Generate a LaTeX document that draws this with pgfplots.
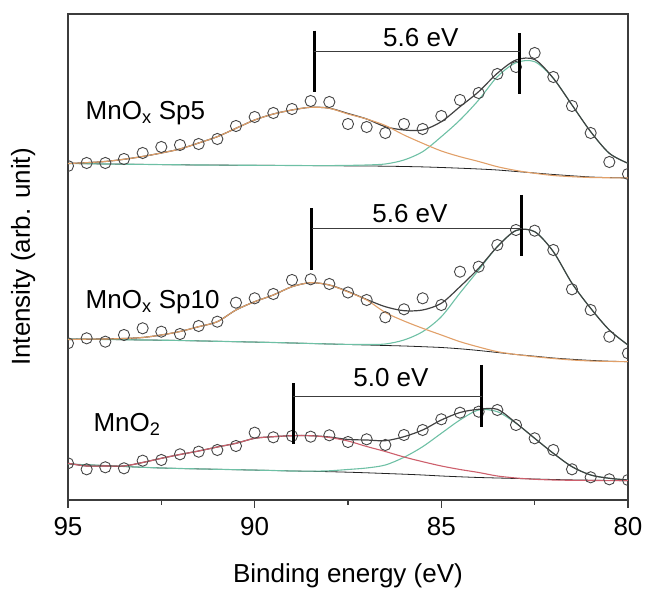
\documentclass[border=0pt]{standalone}
\usepackage{pgfplots}
\usepackage{pgfplotstable}
\pgfplotsset{compat=1.18}
\usepackage{fontspec}
\setmainfont{Liberation Sans}

\definecolor{axgray}{RGB}{60,60,60}
\definecolor{ptgray}{RGB}{70,70,70}
\definecolor{envgray}{RGB}{65,65,65}
\definecolor{bgline}{RGB}{35,35,35}
\definecolor{cmporange}{RGB}{225,160,105}
\definecolor{cmpgreen}{RGB}{110,192,165}
\definecolor{cmpred}{RGB}{205,95,108}

% E, measured counts, background, satellite, main peak, envelope
\pgfplotstableread{
E     I      bg     c1     c2     env
95    334    336.5  336.5  336.5  336.5
94.5  337    336.3  337.3  336.3  337.3
94    337    336.0  338.5  336.0  338.5
93.5  341    335.8  340.7  335.8  340.7
93    347    335.6  343.5  335.6  343.5
92.5  353    335.4  347    335.4  347
92    355    335.2  351    335.2  351
91.5  356    335.0  357    335.0  357
91    361    334.9  363.3  334.9  363.3
90.5  374    334.8  371.7  334.8  371.7
90    383    334.7  380    334.7  380
89.5  387    334.6  386    334.6  386
89    391    334.5  390    334.5  390
88.5  399    334.4  392.7  334.4  392.7
88    398    334.3  391.7  334.4  391.8
87.5  376    334.1  386    334.6  386.5
87    373    334.0  381    335    381
86.5  367    333.8  374.5  336    373.3
86    376    333.5  365    340    370
85.5  371    333.1  356.7  348.3  370
85    384    332.5  349    363.3  378.3
84.5  400    331.8  343.3  380    393.3
84    407    331.0  338.5  400    408.3
83.5  426    330.0  333.3  423.3  426.7
83    433    328.5  329.5  437.3  440
82.5  447    327.0  326.7  438.3  440.5
82    423    325.5  324.5  421.7  421.7
81.5  394    324.2  323.3  395    395
81    367    323.0  322.5  368.3  368.3
80.5  338    322.4  322.2  346.7  346.7
80    326    322.0  322    336.7  336.7
}\spfive

\pgfplotstableread{
E     I      bg     c1     c2     env
95    156.7  161    160.5  161    160.5
94.5  161.7  160.7  160.8  160.7  160.8
94    158.3  160.5  161    160.5  161
93.5  165    160.3  161.5  160.3  161.5
93    171.7  160    162.5  160    162.5
92.5  168.3  159.8  165    159.8  165
92    166    159.5  168.5  159.5  168.5
91.5  174    159.1  173.3  159.1  173.3
91    178.3  158.7  178.3  158.7  178.3
90.5  197.3  158.3  190    158.3  190
90    201.7  157.9  198.3  157.9  198.3
89.5  206    157.5  205    157.5  205
89    220    157    213.3  157    213.3
88.5  220.7  156.5  217.3  156.5  217.3
88    216    156    215    156    215
87.5  207.5  155.5  208    155.6  208.5
87    200    155    200    155.5  200.5
86.5  182.7  154.5  187.5  156    193.3
86    190.7  154    179    160    189.3
85.5  201.7  153.3  171.7  168.3  190
85    195    152.5  165    183.3  196.7
84.5  228.3  151.2  158.3  207    213.3
84    233.3  149.5  153    230    231.7
83.5  255    147.5  148.3  253.3  253.3
83    270    145.5  145.5  269.3  269.5
82.5  269.3  143.8  143.3  268.3  268.3
82    250    142    141.5  248.3  248.3
81.5  210.7  140.7  140    216.7  216.7
81    190    139.6  139    191.7  191.7
80.5  163.3  138.8  138.6  170    170
80    146.7  138.3  138.3  155    155
}\spten

\pgfplotstableread{
E     I      bg     c1     c2     env
95    36.7   36     36.7   36     36.7
94.5  30.7   35.2   34     35.2   34
94    32.7   34.4   34     34.4   34
93.5  31.7   33.5   34     33.5   34
93    39.3   32.7   37.5   32.7   37.5
92.5  40     32     41.7   32     41.7
92    45.7   31.5   45.5   31.5   45.5
91.5  48.3   31.1   49     31.1   49
91    50     30.7   53     30.7   53
90.5  54     30.3   56.7   30.3   56.7
90    67.3   29.9   61.7   29.9   61.7
89.5  62.7   29.5   63.3   29.5   63.3
89    64     29     64.3   29     64.3
88.5  63.3   28.7   64.3   28.8   64.3
88    64.7   28.3   62.5   29.2   63
87.5  58     27.8   59     30.5   60.5
87    60.7   27.2   53.5   32     60
86.5  55     26.5   48.5   35     59.3
86    65     25.8   43     42.7   63.3
85.5  70     25     38.3   53.3   70
85    80.7   24     34     66.7   80
84.5  87.3   23.2   30.5   80     87.5
84    88.3   22.5   27.5   90     90.7
83.5  90     22     24     88.3   90.7
83    75     21.5   22     76.7   77
82.5  61.7   21     20.7   61.7   61.7
82    50     20.5   20     46.7   46.7
81.5  30.7   20.1   19.7   33.3   33.3
81    22.7   19.8   19.5   25     25
80.5  20.7   19.5   19.4   21.7   21.7
80    20     19.3   19.3   20     20
}\mntwo

\begin{document}
\begin{tikzpicture}[font=\fontsize{26}{31}\selectfont]
\path[use as bounding box] (0,0) rectangle (651pt,601pt);
\begin{axis}[
    at={(68pt,101pt)}, anchor=south west,
    scale only axis, width=560pt, height=486pt,
    x dir=reverse,
    xmin=80, xmax=95, ymin=0, ymax=486,
    xtick={80,85,90,95},
    minor xtick={82.5,87.5,92.5},
    ytick=\empty,
    xtick pos=left,
    tick align=outside,
    major tick length=8pt, minor tick length=5pt,
    axis line style={axgray, line width=1.4pt},
    every tick/.style={axgray, line width=1.2pt},
    /pgf/number format/assume math mode=true,
    xticklabel style={yshift=-6pt},
    xlabel={Binding energy (eV)},
    ylabel={Intensity (arb. unit)},
    every axis x label/.style={at={(axis description cs:0.5,0)}, anchor=base, yshift=-83pt},
    every axis y label/.style={at={(axis description cs:-0.068,0.5)}, rotate=90, anchor=base},
    clip marker paths=true,
    data/.style={only marks, mark=o, mark size=5.6pt, draw=ptgray, mark options={line width=0.9pt}},
    bgl/.style={bgline, line width=0.8pt, smooth, no marks},
    c1l/.style={cmporange, line width=1.1pt, smooth, no marks},
    c2l/.style={cmpgreen, line width=1.1pt, smooth, no marks},
    c3l/.style={cmpred, line width=1.1pt, smooth, no marks},
    envl/.style={envgray, line width=1.2pt, smooth, no marks},
    mk/.style={black, line width=2.6pt, no marks},
    sep/.style={axgray, line width=0.8pt, no marks},
]
% MnOx Sp5
\addplot[bgl] table[x=E, y=bg] {\spfive};
\addplot[c2l] table[x=E, y=c2] {\spfive};
\addplot[envl] table[x=E, y=env] {\spfive};
\addplot[c1l] table[x=E, y=c1] {\spfive};
\addplot[data] table[x=E, y=I] {\spfive};
% MnOx Sp10
\addplot[bgl] table[x=E, y=bg] {\spten};
\addplot[c2l] table[x=E, y=c2] {\spten};
\addplot[envl] table[x=E, y=env] {\spten};
\addplot[c1l] table[x=E, y=c1] {\spten};
\addplot[data] table[x=E, y=I] {\spten};
% MnO2
\addplot[bgl] table[x=E, y=bg] {\mntwo};
\addplot[c2l] table[x=E, y=c2] {\mntwo};
\addplot[envl] table[x=E, y=env] {\mntwo};
\addplot[c3l] table[x=E, y=c1] {\mntwo};
\addplot[data] table[x=E, y=I] {\mntwo};

% splitting markers
\addplot[mk] coordinates {(88.4,469.3) (88.4,408.3)};
\addplot[mk] coordinates {(82.9,466.7) (82.9,406)};
\addplot[sep] coordinates {(88.4,448.3) (82.9,448.3)};
\node[anchor=base] at (axis cs:85.55,453) {5.6 eV};

\addplot[mk] coordinates {(88.47,291.7) (88.47,230)};
\addplot[mk] coordinates {(82.85,305) (82.85,244)};
\addplot[sep] coordinates {(88.47,271.5) (82.85,271.5)};
\node[anchor=base] at (axis cs:85.84,277.7) {5.6 eV};

\addplot[mk] coordinates {(88.96,116.7) (88.96,56)};
\addplot[mk] coordinates {(83.92,135) (83.92,73.3)};
\addplot[sep] coordinates {(88.96,103.3) (83.92,103.3)};
\node[anchor=base] at (axis cs:86.35,113.3) {5.0 eV};

\node[anchor=base west] at (axis cs:94.62,380) {MnO\textsubscript{x} Sp5};
\node[anchor=base west] at (axis cs:94.62,191.7) {MnO\textsubscript{x} Sp10};
\node[anchor=base west] at (axis cs:94.41,68.3) {MnO\textsubscript{2}};
\end{axis}
\end{tikzpicture}
\end{document}
